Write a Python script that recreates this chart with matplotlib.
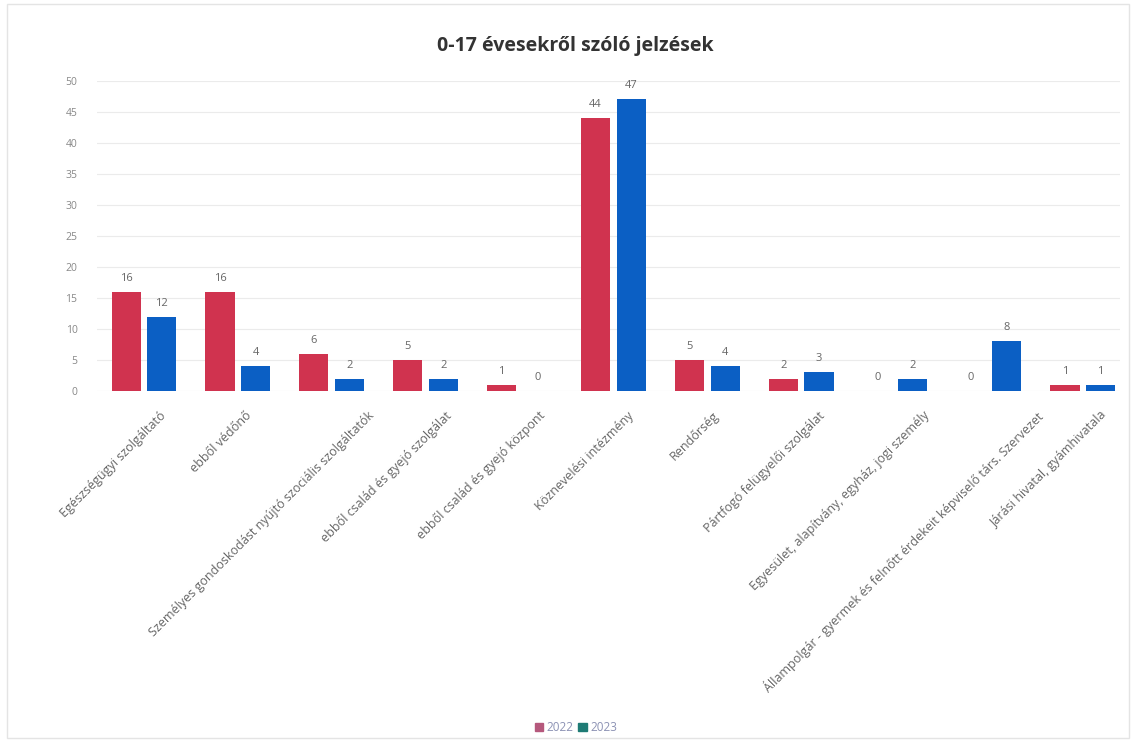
import matplotlib
matplotlib.use('Agg')
import matplotlib.pyplot as plt
import matplotlib.transforms as mtransforms
import numpy as np

kategoriak = [
    "Egészségügyi szolgáltató",
    "ebből védőnő",
    "Személyes gondoskodást nyújtó szociális szolgáltatók",
    "ebből család és gyejó szolgálat",
    "ebből család és gyejó központ",
    "Köznevelési intézmény",
    "Rendőrség",
    "Pártfogó felügyelői szolgálat",
    "Egyesület, alapítvány, egyház, jogi személy",
    "Állampolgár - gyermek és felnőtt érdekeit képviselő társ. Szervezet",
    "Járási hivatal, gyámhivatala",
]
ev_2022 = [16, 16, 6, 5, 1, 44, 5, 2, 0, 0, 1]
ev_2023 = [12, 4, 2, 2, 0, 47, 4, 3, 2, 8, 1]
y_ticks = list(range(0, 55, 5))

PIROS = '#d0334f'
KEK = '#0b5fc4'
SZURKE = '#666666'

plt.rcParams['font.family'] = ['Open Sans', 'DejaVu Sans']

fig = plt.figure(figsize=(11.34, 7.42), dpi=100)
ax = fig.add_axes([0.0855, 0.473, 0.9025, 0.418])

x = np.arange(len(kategoriak))
w = 0.31
off = 0.19
b1 = ax.bar(x - off, ev_2022, w, color=PIROS, label='2022', zorder=3)
b2 = ax.bar(x + off, ev_2023, w, color=KEK, label='2023', zorder=3)

for bars, vals in ((b1, ev_2022), (b2, ev_2023)):
    for b, v in zip(bars, vals):
        ax.text(b.get_x() + b.get_width() / 2, v + 1.3, str(v), ha='center', va='bottom',
                fontsize=8, color=SZURKE)

ax.set_ylim(0, 50)
ax.set_xlim(-0.5, 10.4)
ax.set_yticks(y_ticks)
ax.tick_params(axis='y', labelsize=7.5, colors='#888888', length=0, pad=14)
ax.set_xticks(x)
ax.set_xticklabels(kategoriak, rotation=45, ha='right', rotation_mode='anchor',
                   fontsize=9, color=SZURKE)
ax.tick_params(axis='x', length=0, pad=13)
ax.grid(axis='y', color='#ebebeb', linewidth=0.8, zorder=0)
for s in ax.spines.values():
    s.set_visible(False)

# a hosszabb feliratok jobbra tolódnak az eredetin
fig.canvas.draw()
renderer = fig.canvas.get_renderer()
for lbl in ax.get_xticklabels():
    szel = lbl.get_window_extent(renderer).width
    dx = max(0.18 * szel - 5, 3)
    lbl.set_transform(lbl.get_transform() +
                      mtransforms.ScaledTranslation(dx / 100, 0, fig.dpi_scale_trans))

fig.text(0.507, 0.938, "0-17 évesekről szóló jelzések", ha='center', va='center',
         fontsize=14, fontweight='bold', color='#333333')

leg = fig.legend(handles=[b1, b2], labels=['2022', '2023'], loc='center',
                 bbox_to_anchor=(0.508, 0.019), ncol=2, frameon=False, fontsize=8.5,
                 handlelength=0.7, handleheight=0.7, handletextpad=0.3, columnspacing=0.4)
leg.legend_handles[0].set_color('#b5587c')
leg.legend_handles[1].set_color('#1e7b75')
for t in leg.get_texts():
    t.set_color('#8c92b4')

fig.patches.append(plt.Rectangle((0.006, 0.005), 0.99, 0.99, transform=fig.transFigure,
                                 fill=False, edgecolor='#e4e4e4', linewidth=1))

fig.savefig('out.png', dpi=100, facecolor='white')
